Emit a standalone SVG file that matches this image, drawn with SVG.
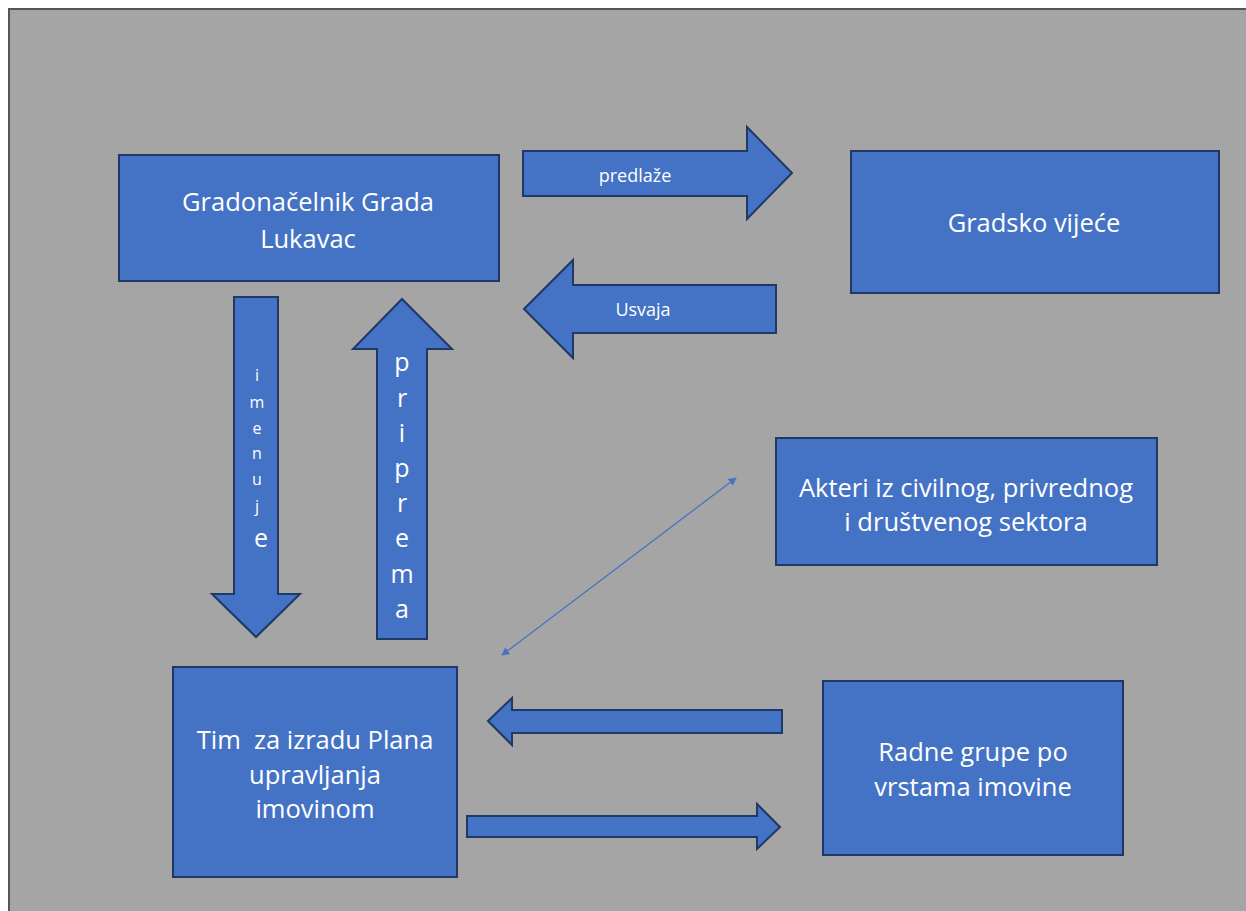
<svg xmlns="http://www.w3.org/2000/svg" width="1246" height="911" viewBox="0 0 1246 911">
<style>
.box{fill:#4472c4;stroke:#1f3864;stroke-width:2}
.arr{fill:#4472c4;stroke:#1f3864;stroke-width:2;stroke-linejoin:miter}
.t{font-family:"Open Sans","Liberation Sans",sans-serif;fill:#ffffff;text-anchor:middle;dominant-baseline:central;white-space:pre}
.big{font-size:25.5px}
.sm{font-size:18px}
.v{font-size:16px}
.vb{font-size:25px}
</style>
<defs>
<marker id="ah" viewBox="0 0 10 10" refX="9" refY="5" markerWidth="8" markerHeight="8" markerUnits="userSpaceOnUse" orient="auto-start-reverse">
<path d="M0,0 L10,5 L0,10 z" fill="#4472c4"/>
</marker>
</defs>
<rect x="0" y="0" width="1246" height="911" fill="#ffffff"/>
<rect x="9" y="9" width="1250" height="920" fill="#a5a5a5" stroke="#555555" stroke-width="2"/>

<g id="gradonacelnik">
<rect class="box" x="119" y="155" width="380" height="126"/>
<text class="t big" x="308" y="201">Gradonačelnik Grada</text>
<text class="t big" x="308" y="238">Lukavac</text>
</g>
<g id="gradsko-vijece">
<rect class="box" x="851" y="151" width="368" height="142"/>
<text class="t big" x="1034" y="222">Gradsko vijeće</text>
</g>
<g id="akteri">
<rect class="box" x="776" y="438" width="381" height="127"/>
<text class="t big" x="966" y="487">Akteri iz civilnog, privrednog</text>
<text class="t big" x="966" y="521">i društvenog sektora</text>
</g>
<g id="tim">
<rect class="box" x="173" y="667" width="284" height="210"/>
<text class="t big" x="315" y="739" xml:space="preserve">Tim  za izradu Plana</text>
<text class="t big" x="315" y="774">upravljanja</text>
<text class="t big" x="315" y="808">imovinom</text>
</g>
<g id="radne-grupe">
<rect class="box" x="823" y="681" width="300" height="174"/>
<text class="t big" x="973" y="751">Radne grupe po</text>
<text class="t big" x="973" y="786">vrstama imovine</text>
</g>

<g id="connectors">
<g id="predlaze">
<path class="arr" d="M523,151 L747,151 L747,127 L792,173 L747,219 L747,196 L523,196 Z"/>
<text class="t sm" x="635" y="175">predlaže</text>
</g>
<g id="usvaja">
<path class="arr" d="M524,309 L573,260 L573,285 L776,285 L776,333 L573,333 L573,358 Z"/>
<text class="t sm" x="643" y="309">Usvaja</text>
</g>
<g id="imenuje">
<path class="arr" d="M234,297 L278,297 L278,594 L300,594 L256,637 L212,594 L234,594 Z"/>
<text class="t v" x="257" y="375">i</text>
<text class="t v" x="257" y="402">m</text>
<text class="t v" x="257" y="428">e</text>
<text class="t v" x="257" y="453">n</text>
<text class="t v" x="257" y="479">u</text>
<text class="t v" x="257" y="506">j</text>
<text class="t vb" x="261" y="537">e</text>
</g>
<g id="priprema">
<path class="arr" d="M402,299 L452,349 L427,349 L427,639 L377,639 L377,349 L353,349 Z"/>
<text class="t vb" x="402" y="361">p</text>
<text class="t vb" x="402" y="397">r</text>
<text class="t vb" x="402" y="432">i</text>
<text class="t vb" x="402" y="467">p</text>
<text class="t vb" x="402" y="502">r</text>
<text class="t vb" x="402" y="537">e</text>
<text class="t vb" x="402" y="573">m</text>
<text class="t vb" x="402" y="608">a</text>
</g>
<line id="akteri-tim" x1="502" y1="655" x2="736" y2="478" stroke="#4472c4" stroke-width="1.3" marker-start="url(#ah)" marker-end="url(#ah)"/>
<path id="radne-tim" class="arr" d="M488,721 L512,698 L512,710 L782,710 L782,733 L512,733 L512,745 Z"/>
<path id="tim-radne" class="arr" d="M467,816 L757,816 L757,804 L780,827 L757,849 L757,837 L467,837 Z"/>
</g>
</svg>
